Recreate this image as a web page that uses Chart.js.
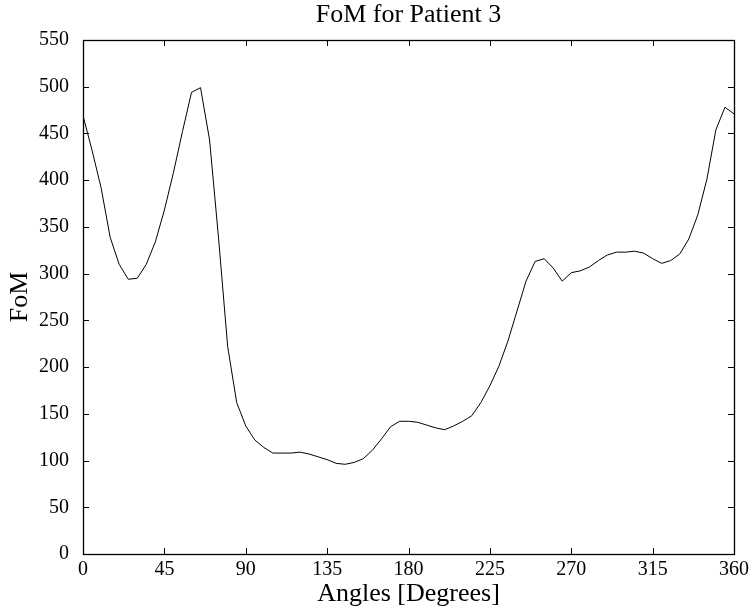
<!DOCTYPE html>
<html>
<head>
<meta charset="utf-8">
<script src="https://cdn.jsdelivr.net/npm/chart.js@4/dist/chart.umd.min.js"></script>
<style>
html,body{margin:0;padding:0;background:#fff;}
#wrap{width:754px;height:615px;}
</style>
</head>
<body>
<div id="wrap"><canvas id="c" width="754" height="615"></canvas></div>
<script>
const titleText = "FoM for Patient 3";
const xTitle = "Angles [Degrees]";
const yTitle = "FoM";
const angles = [0,5,10,15,20,25,30,35,40,45,50,55,60,65,70,75,80,85,90,95,100,105,110,115,120,125,130,135,140,145,150,155,160,165,170,175,180,185,190,195,200,205,210,215,220,225,230,235,240,245,250,255,260,265,270,275,280,285,290,295,300,305,310,315,320,325,330,335,340,345,350,355,360];
const fom = [469,432,392,339,310,294,295,310,334,368,408,452,494,499,443,337,222,162,137,122,114,108,108,108,109,107,104,101,97,96,98,102,111,123,136,142,142,141,138,135,133,137,142,148,162,180,201,228,260,292,313,316,306,292,301,303,307,314,320,323,323,324,322,316,311,314,321,337,363,401,454,478,471];
const xTicks = [0,45,90,135,180,225,270,315,360];
const yTicks = [0,50,100,150,200,250,300,350,400,450,500,550];

const FONT = "'Liberation Serif', 'Times New Roman', serif";

const boxPlugin = {
  id: 'box',
  afterDraw(chart) {
    const ctx = chart.ctx;
    const a = chart.chartArea;
    const xs = chart.scales.x, ys = chart.scales.y;
    ctx.save();
    ctx.strokeStyle = '#000';
    ctx.lineWidth = 1;
    ctx.beginPath();
    const L = 6;
    xTicks.forEach(v => {
      const px = Math.round(xs.getPixelForValue(v)) + 0.5;
      ctx.moveTo(px, a.bottom); ctx.lineTo(px, a.bottom - L);
      ctx.moveTo(px, a.top); ctx.lineTo(px, a.top + L);
    });
    yTicks.forEach(v => {
      const py = Math.round(ys.getPixelForValue(v)) + 0.5;
      ctx.moveTo(a.left, py); ctx.lineTo(a.left + L, py);
      ctx.moveTo(a.right, py); ctx.lineTo(a.right - L, py);
    });
    ctx.stroke();
    ctx.lineWidth = 1.3;
    ctx.strokeRect(Math.round(a.left)+0.5, Math.round(a.top)+0.5, Math.round(a.right-a.left), Math.round(a.bottom-a.top));
    // title
    ctx.fillStyle = '#000';
    ctx.font = "26px " + FONT;
    ctx.textAlign = 'center';
    ctx.textBaseline = 'alphabetic';
    ctx.fillText(titleText, (a.left + a.right) / 2, 22);
    ctx.restore();
  }
};

new Chart(document.getElementById('c'), {
  type: 'line',
  data: {
    datasets: [{
      data: angles.map((a, i) => ({x: a, y: fom[i]})),
      borderColor: '#000',
      borderWidth: 1,
      pointRadius: 0,
      tension: 0,
      fill: false
    }]
  },
  options: {
    responsive: false,
    animation: false,
    devicePixelRatio: 1,
    layout: { padding: { top: 40, right: 20, left: 0, bottom: 0 } },
    plugins: { legend: { display: false }, title: { display: false }, tooltip: { enabled: false } },
    scales: {
      x: {
        type: 'linear', min: 0, max: 360,
        afterBuildTicks: s => { s.ticks = xTicks.map(v => ({value: v})); },
        afterFit: s => { s.height = 61; },
        grid: { display: false },
        border: { display: false },
        ticks: { color: '#000', font: { family: FONT, size: 20 }, padding: -4, maxRotation: 0, autoSkip: false },
        title: { display: true, text: xTitle, color: '#000', font: { family: FONT, size: 26 }, padding: { top: 0, bottom: 5 } }
      },
      y: {
        type: 'linear', min: 0, max: 550,
        afterBuildTicks: s => { s.ticks = yTicks.map(v => ({value: v})); },
        afterFit: s => { s.width = 83; },
        grid: { display: false },
        border: { display: false },
        ticks: { color: '#000', font: { family: FONT, size: 20 }, padding: 6, autoSkip: false },
        title: { display: true, text: yTitle, color: '#000', font: { family: FONT, size: 26 }, padding: { top: 5, bottom: 0 } }
      }
    }
  },
  plugins: [boxPlugin]
});
</script>
</body>
</html>
